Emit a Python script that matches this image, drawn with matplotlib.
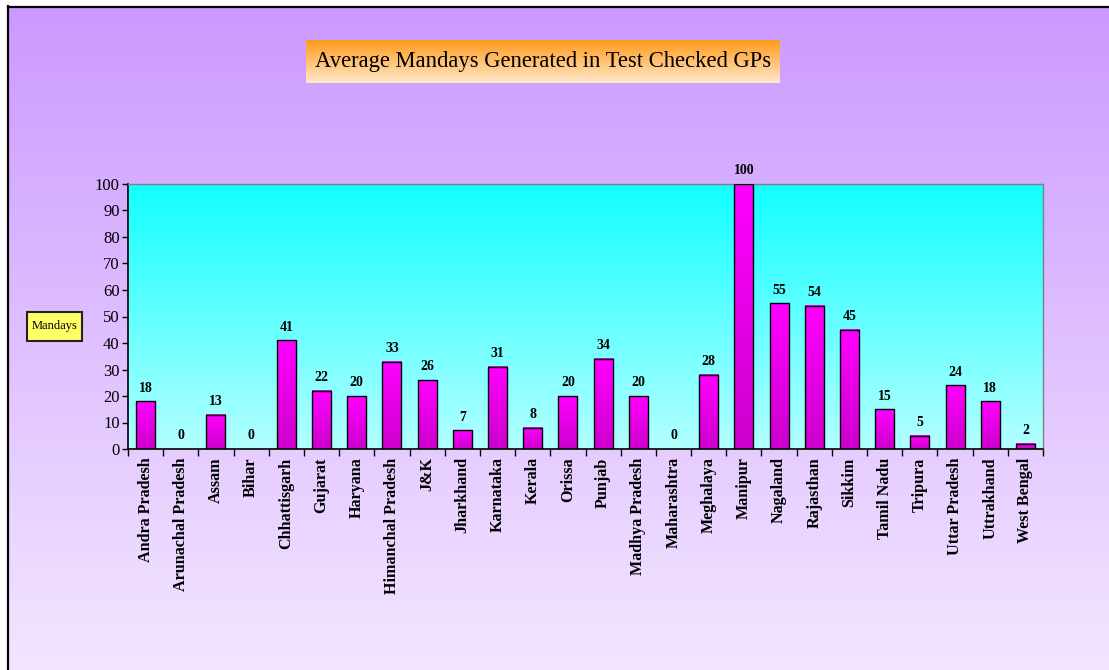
import numpy as np
import matplotlib

matplotlib.use('agg')
import matplotlib.pyplot as plt
from matplotlib.colors import LinearSegmentedColormap
from matplotlib.patches import Rectangle

states = ['Andra Pradesh', 'Arunachal Pradesh', 'Assam', 'Bihar', 'Chhattisgarh',
          'Gujarat', 'Haryana', 'Himanchal Pradesh', 'J&K', 'Jharkhand', 'Karnataka',
          'Kerala', 'Orissa', 'Punjab', 'Madhya Pradesh', 'Maharashtra', 'Meghalaya',
          'Manipur', 'Nagaland', 'Rajasthan', 'Sikkim', 'Tamil Nadu', 'Tripura',
          'Uttar Pradesh', 'Uttrakhand', 'West Bengal']
mandays = [18, 0, 13, 0, 41, 22, 20, 33, 26, 7, 31, 8, 20, 34, 20, 0, 28, 100,
           55, 54, 45, 15, 5, 24, 18, 2]
yticks = list(range(0, 101, 10))

plt.rcParams['font.family'] = ['Liberation Serif', 'DejaVu Serif']

W, H = 1109, 670
fig = plt.figure(figsize=(W / 100, H / 100), dpi=100)
fig.patch.set_facecolor('white')


def vgrad(top, bottom):
    # vertical gradient, row 0 = top
    cm = LinearSegmentedColormap.from_list('g', [top, bottom])
    return cm(np.linspace(0, 1, 256)).reshape(256, 1, 4)


# page background with border
bg = fig.add_axes([7 / W, 0, 1 - 7 / W, 1 - 6 / H], zorder=-5)
bg.imshow(vgrad('#cc99ff', '#f2e6ff'), aspect='auto', extent=[0, 1, 0, 1])
bg.set_xlim(0, 1)
bg.set_ylim(0, 1)
bg.axis('off')
fig.add_artist(plt.Line2D([7.5 / W, 7.5 / W], [0, 1 - 6 / H], color='black', lw=1.6))
fig.add_artist(plt.Line2D([7.5 / W, 1], [1 - 6.5 / H, 1 - 6.5 / H], color='black', lw=1.6))

# title box
tb = fig.add_axes([306 / W, 1 - 83 / H, 474 / W, 43 / H])
tb.imshow(vgrad('#ff9a1a', '#ffe8cc'), aspect='auto', extent=[0, 1, 0, 1])
tb.set_xlim(0, 1)
tb.set_ylim(0, 1)
tb.axis('off')
tb.text(0.5, 0.5, 'Average Mandays Generated in Test Checked GPs', ha='center',
        va='center', fontsize=16.3, color='black')

# y label box
fig.add_artist(Rectangle((27 / W, 1 - 341 / H), 55 / W, 29 / H, transform=fig.transFigure,
                         facecolor='#ffff66', edgecolor='#222222', lw=1.5))
fig.text(54.5 / W, 1 - 326.5 / H, 'Mandays', ha='center', va='center', fontsize=9)

ax = fig.add_axes([128 / W, 1 - 449 / H, (1043 - 128) / W, (449 - 184) / H])
n = len(states)
x = np.arange(n)
xlim = (-0.5, n - 0.5)
ylim = (0, 100)
ax.imshow(vgrad('#10ffff', '#b4ffff'), aspect='auto', extent=[xlim[0], xlim[1], 0, 100], zorder=0)

bar_grad = vgrad('#ff00ff', '#cc00cc')
w = 0.54
for xi, v in zip(x, mandays):
    if v > 0:
        ax.imshow(bar_grad, aspect='auto', extent=[xi - w / 2, xi + w / 2, 0, v], zorder=2)
        ax.add_patch(Rectangle((xi - w / 2, 0), w, v, facecolor='none',
                               edgecolor='black', lw=1, zorder=3))
    ax.text(xi, v + 2.5, str(v), ha='center', va='bottom', fontsize=10,
            fontweight='bold')

ax.set_xlim(xlim)
ax.set_ylim(ylim)
ax.set_yticks(yticks)
ax.set_yticklabels([str(t) for t in yticks], fontsize=12)
ax.set_xticks(x)
ax.set_xticklabels(states, rotation=90, fontsize=11.6, fontweight='bold')
ax.tick_params(axis='x', length=0, pad=6)
ax.set_xticks(np.arange(n + 1) - 0.5, minor=True)
ax.tick_params(axis='x', which='minor', length=5, direction='out', width=1)
ax.tick_params(axis='y', length=4, direction='out', width=1, pad=2)
for s in ('top', 'right'):
    ax.spines[s].set_color('#808080')
    ax.spines[s].set_linewidth(1)
for s in ('left', 'bottom'):
    ax.spines[s].set_color('black')
    ax.spines[s].set_linewidth(1.2)

fig.savefig('out.png', dpi=100)
